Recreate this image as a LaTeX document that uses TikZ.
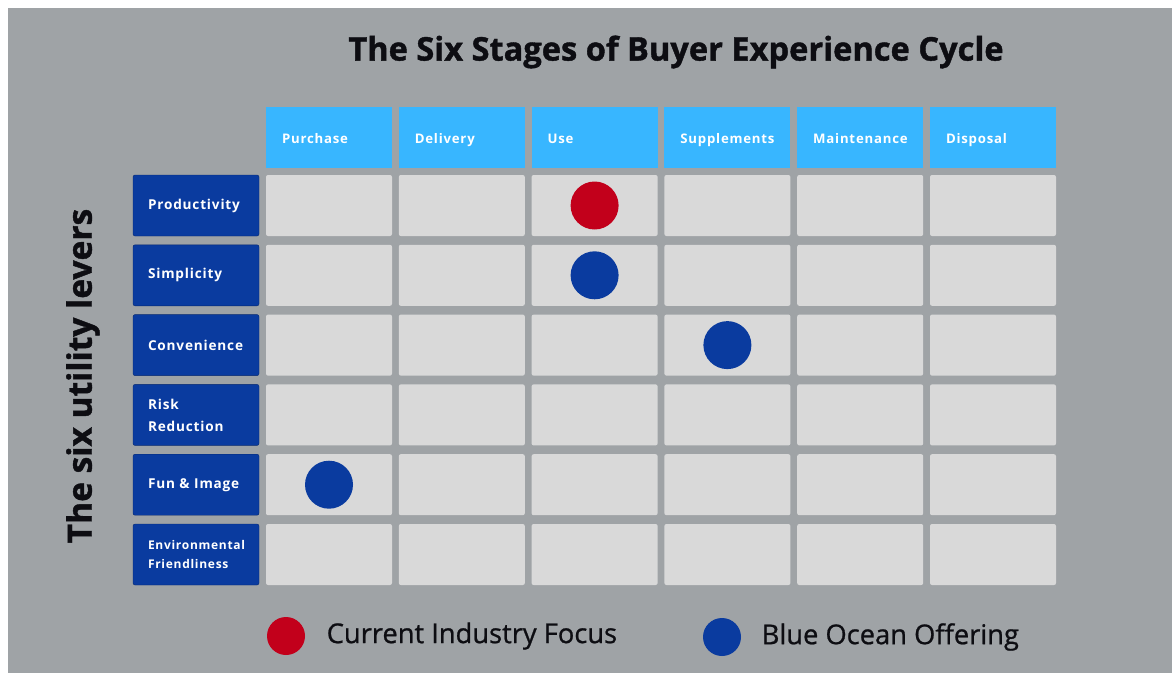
\documentclass[tikz,border=0pt]{standalone}
\usepackage{fontspec}
\setmainfont{Open Sans}
\newfontfamily\spacedfont[LetterSpace=6]{Open Sans}
\newfontfamily\heavyfont[FakeBold=1.2]{Open Sans}
\newfontfamily\keyfont[FakeBold=0.8]{Open Sans}
\usetikzlibrary{positioning}

\definecolor{bggray}{HTML}{9FA3A6}
\definecolor{cellgray}{HTML}{D9D9D9}
\definecolor{headblue}{HTML}{38B6FF}
\definecolor{leverblue}{HTML}{0A3B9F}
\definecolor{focusred}{HTML}{C2001B}
\definecolor{inkblack}{HTML}{0D0D12}

\tikzset{
  cell/.style={fill=cellgray, rounded corners=2pt, minimum width=126pt,
    minimum height=61pt, inner sep=0pt},
  stage/.style={fill=headblue, minimum width=126pt, minimum height=61pt,
    text width=94pt, inner xsep=16pt, inner ysep=0pt, align=left,
    text height=11pt, text depth=0pt,
    text=white, font=\spacedfont\fontsize{13.2}{15}\selectfont\bfseries},
  lever/.style={fill=leverblue, draw=leverblue!70!black, rounded corners=2pt,
    minimum width=126pt, minimum height=61pt, text width=96pt,
    inner xsep=15pt, inner ysep=0pt, align=left, text=white},
  dot/.style={circle, minimum size=48pt, inner sep=0pt},
  key/.style={text=inkblack, font=\keyfont\fontsize{27.3}{32}\selectfont},
}

\begin{document}
\begin{tikzpicture}[x=1pt,y=-1pt]
\useasboundingbox (0,0) rectangle (1172,673);
\fill[bggray] (8,8) rectangle (1172,673);

% Title and side caption
\node[text=inkblack, font=\heavyfont\bfseries\fontsize{32.6}{38}\selectfont] (title) at (676,52)
  {The Six Stages of Buyer Experience Cycle};
\node[text=inkblack, rotate=90, font=\heavyfont\bfseries\fontsize{33.5}{38}\selectfont] (levers) at (83,376)
  {The six utility levers};

% Stages of the cycle
\foreach \name [count=\c] in {Purchase,Delivery,Use,Supplements,Maintenance,Disposal}
  \node[stage] (s-\c) at ({329+(\c-1)*132.8},137.5) {\name};

% Utility levers
\foreach \name/\lsize/\lskip [count=\r] in {Productivity/13.6/22,Simplicity/13.6/22,Convenience/13.6/22,
    {Risk\\Reduction}/13.6/22,{Fun \& Image}/13.6/22,{Environmental\\Friendliness}/12/18.5}
  \node[lever, font=\spacedfont\bfseries\fontsize{\lsize}{\lskip}\selectfont]
    (l-\r) at (196,{205.5+(\r-1)*69.8}) {\name};

% Grid of cells
\foreach \r in {1,...,6}
  \foreach \c in {1,...,6}
    \node[cell] (c-\r-\c) at ({329+(\c-1)*132.8},{205.5+(\r-1)*69.8}) {};

% Dots
\node[dot, fill=focusred] (d-1-3) at (c-1-3) {};
\node[dot, fill=leverblue] (d-2-3) at (c-2-3) {};
\node[dot, fill=leverblue] (d-3-4) at (c-3-4) {};
\node[dot, fill=leverblue] (d-5-1) at (c-5-1) {};

% Legend
\node[dot, minimum size=38pt, fill=focusred] (key-focus) at (286,636) {};
\node[right=18pt of key-focus, key] (key-focus-text) {Current Industry Focus};
\node[dot, minimum size=38pt, fill=leverblue] (key-ocean) at (722,637) {};
\node[right=17pt of key-ocean, key] (key-ocean-text) {Blue Ocean Offering};

\end{tikzpicture}
\end{document}
